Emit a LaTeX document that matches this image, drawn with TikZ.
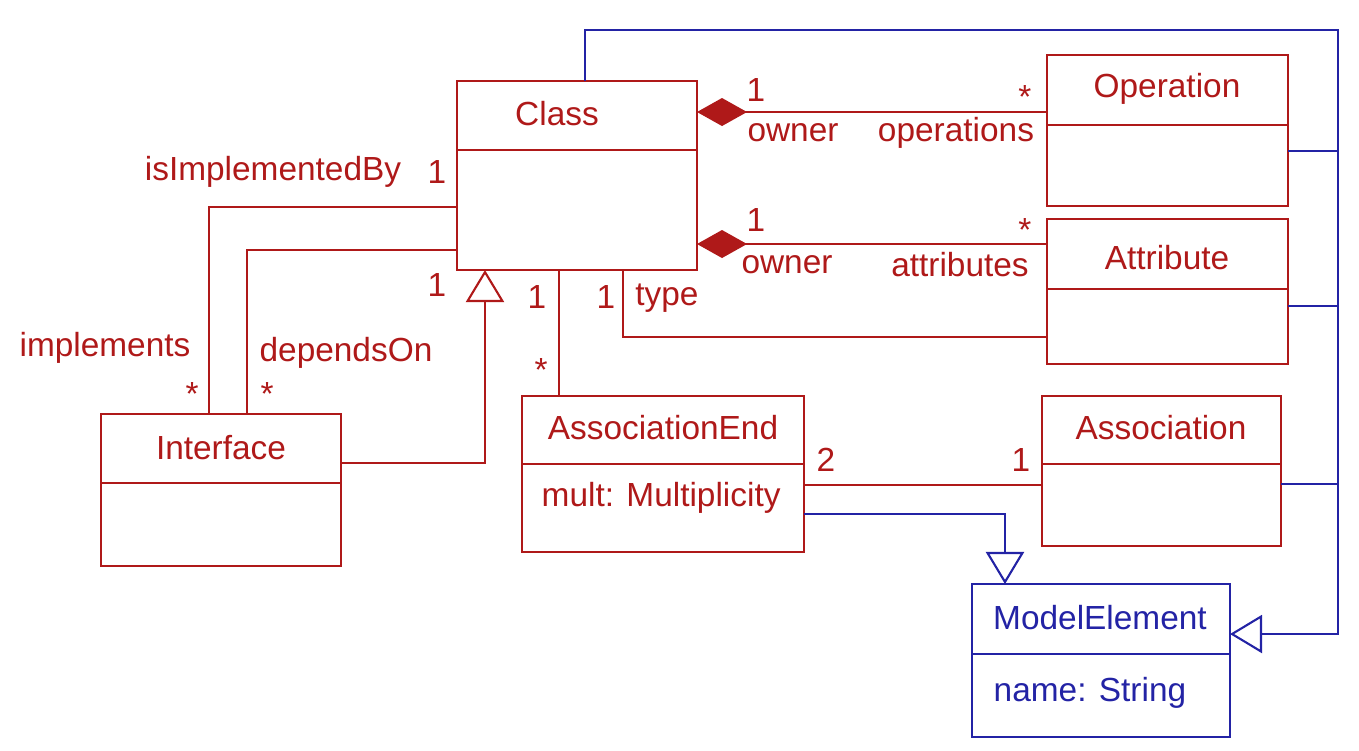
\documentclass[tikz,border=0pt]{standalone}
\usepackage{fontspec}
\setmainfont{Liberation Sans}
\usetikzlibrary{positioning, arrows.meta, fit, calc}
\definecolor{umlred}{RGB}{175,25,25}
\definecolor{umlblue}{RGB}{35,35,165}

\begin{document}
\begin{tikzpicture}[x=0.01cm, y=-0.01cm, font=\fontsize{9.5}{11}\selectfont]
	% 定义样式
	\tikzset{
		redbox/.style = {
			draw=umlred, line width=0.6pt,
			inner sep=0pt, outer sep=0pt
		},
		bluebox/.style = {
			draw=umlblue, line width=0.6pt,
			inner sep=0pt, outer sep=0pt
		},
		redlink/.style = {draw=umlred, line width=0.6pt},
		bluelink/.style = {draw=umlblue, line width=0.6pt},
		redtext/.style = {text=umlred, inner sep=0pt},
		bluetext/.style = {text=umlblue, inner sep=0pt},
		generalization/.style = {-{Triangle[open, length=0.32cm, width=0.38cm]}},
		composition/.style = {{Diamond[length=0.5cm, width=0.28cm]}-}
	}
	\useasboundingbox (0,0) rectangle (1359,750);
	
	% 红色类框 (名称/左/上/右/下/分隔线)
	\foreach \name/\xa/\ya/\xb/\yb/\yd in {class/457/81/697/270/150,
		operation/1047/55/1288/206/125, attribute/1047/219/1288/364/289,
		association/1042/396/1281/546/464, assocend/522/396/804/552/464,
		interface/101/414/341/566/483} {
		\node[redbox, fit={(\xa,\ya) (\xb,\yb)}] (\name) {};
		\draw[redlink] (\name.west |- 0,\yd) -- (\name.east |- 0,\yd);
	}
	
	% 蓝色类框
	\node[bluebox, fit={(972,584) (1230,737)}] (modelelement) {};
	\draw[bluelink] (modelelement.west |- 0,654) -- (modelelement.east |- 0,654);
	
	% 类名和属性
	\foreach \name/\x/\y/\t in {class-title/557/114/Class,
		operation-title/1167/89/Operation, attribute-title/1167/258/Attribute,
		association-title/1161/428/Association,
		assocend-title/663/428/AssociationEnd, interface-title/221/448/Interface} {
		\node[redtext] (\name) at (\x,\y) {\t};
	}
	\node[redtext, anchor=west] (assocend-attr) at (541,498) {mult: Multiplicity};
	\node[bluetext] (modelelement-title) at (1100,618) {ModelElement};
	\node[bluetext, anchor=west] (modelelement-attr) at (993,693) {name: String};
	
	% 蓝色继承线
	\coordinate (bus) at (1338,30);
	\draw[bluelink, generalization] (class.north -| 585,0) |- (bus)
		|- (modelelement.east |- 0,634);
	\draw[bluelink] (operation.east |- 0,151) -- (bus |- 0,151);
	\draw[bluelink] (attribute.east |- 0,306) -- (bus |- 0,306);
	\draw[bluelink] (association.east |- 0,484) -- (bus |- 0,484);
	\draw[bluelink, generalization] (assocend.east |- 0,514)
		-| (modelelement.north -| 1005,0);
	
	% 组合关系
	\draw[redlink, composition] (class.east |- 0,112) -- (operation.west |- 0,112);
	\draw[redlink, composition] (class.east |- 0,244) -- (attribute.west |- 0,244);
	
	% 关联
	\draw[redlink] (class.south -| 623,0) |- (attribute.west |- 0,337);
	\draw[redlink] (class.south -| 559,0) -- (assocend.north -| 559,0);
	\draw[redlink] (assocend.east |- 0,485) -- (association.west |- 0,485);
	\draw[redlink] (class.west |- 0,207) -| (interface.north -| 209,0);
	\draw[redlink] (class.west |- 0,250) -| (interface.north -| 247,0);
	\draw[redlink, generalization] (interface.east |- 0,463) -| (class.south -| 485,0);
	
	% 角色名和多重性
	\foreach \name/\x/\y/\t in {mult-op-one/756/90/1, mult-op-many/1025/97/*,
		role-op-owner/793/133/owner, role-operations/956/133/operations,
		mult-at-one/756/220/1, mult-at-many/1025/230/*,
		role-at-owner/787/265/owner, role-attributes/960/265/attributes,
		mult-end-one/537/297/1, mult-type-one/606/297/1, role-type/667/298/type,
		mult-end-many/541/370/*, mult-impl-one/437/172/1,
		role-isimpl/273/172/isImplementedBy, mult-gen-one/437/285/1,
		role-implements/105/348/implements, mult-impl-many/192/394/*,
		role-depends/346/353/dependsOn, mult-dep-many/267/394/*,
		mult-assoc-two/826/460/2, mult-assoc-one/1021/460/1} {
		\node[redtext] (\name) at (\x,\y) {\t};
	}
\end{tikzpicture}
\end{document}
